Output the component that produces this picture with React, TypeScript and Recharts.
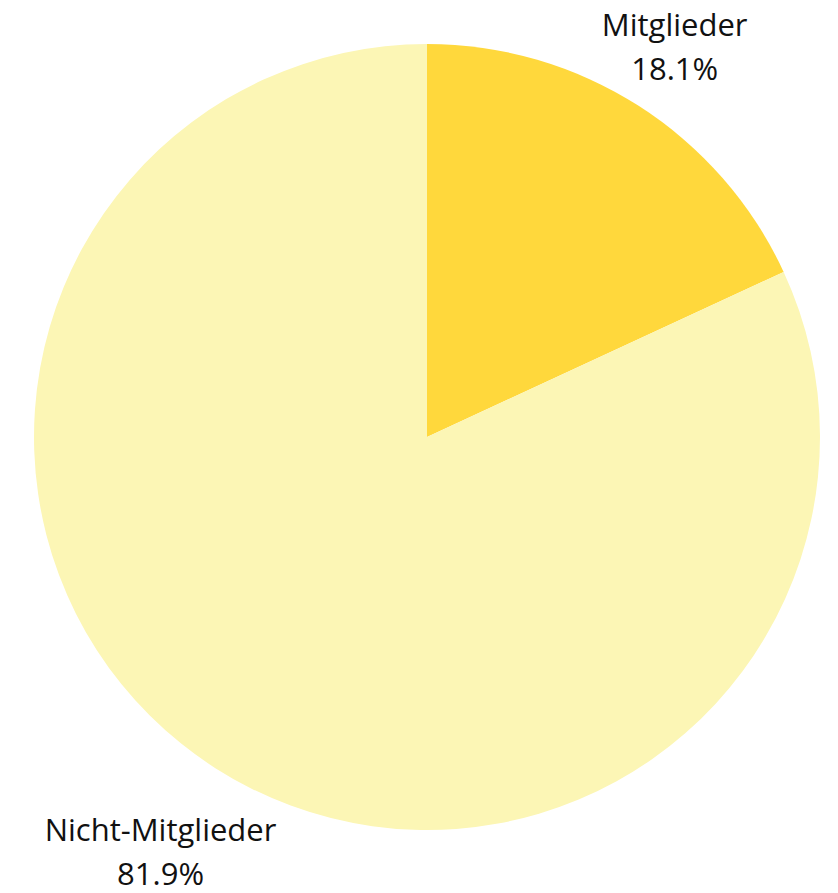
import React from 'react'
import { Cell, Pie, PieChart } from 'recharts'

const groups = ['Mitglieder', 'Nicht-Mitglieder']
const shares = [18.1, 81.9]
const colors = ['#FFD83C', '#FCF6B5']

const data = groups.map((name, i) => ({ name, value: shares[i] }))

const RAD = Math.PI / 180
const FONT = 31

const renderLabel = ({ cx, cy, midAngle, outerRadius, name, value }: any) => {
  const dx = Math.cos(-midAngle * RAD)
  const dy = Math.sin(-midAngle * RAD)
  // push longer labels a bit further out so they clear the circle
  const r = outerRadius + 9 + name.length * 5.8
  const x = cx + r * dx
  const y = cy + r * dy
  return (
    <text x={x} y={y} textAnchor="middle" fill="#111" fontSize={FONT} fontFamily="'Open Sans', sans-serif">
      <tspan x={x} dy={-13}>{name}</tspan>
      <tspan x={x} dy={44}>{`${value.toFixed(1)}%`}</tspan>
    </text>
  )
}

const App = () => {
  return (
    <div style={{ margin: -8 }}>
      <PieChart width={838} height={893}>
        <Pie
          data={data}
          dataKey="value"
          nameKey="name"
          cx={422}
          cy={432}
          outerRadius={393}
          startAngle={90}
          endAngle={-270}
          stroke="none"
          labelLine={false}
          label={renderLabel}
          isAnimationActive={false}
        >
          {data.map((d, i) => (
            <Cell key={d.name} fill={colors[i]} />
          ))}
        </Pie>
      </PieChart>
    </div>
  )
}

export default App
